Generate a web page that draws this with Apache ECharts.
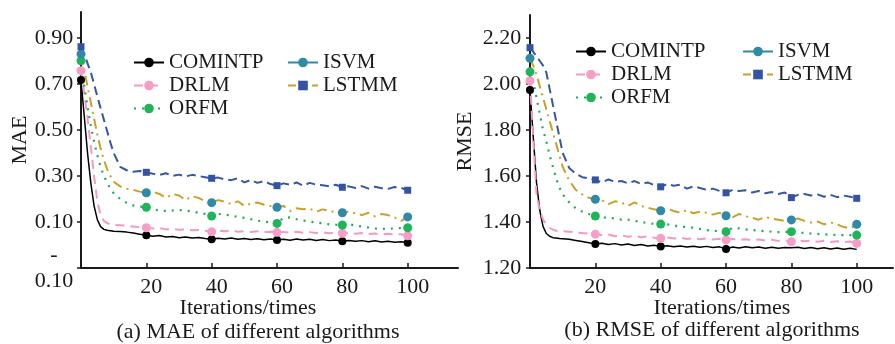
<!DOCTYPE html>
<html>
<head>
<meta charset="utf-8">
<script src="https://cdn.jsdelivr.net/npm/echarts@6/dist/echarts.min.js"></script>
<style>
  html, body { margin: 0; padding: 0; background: #fff; }
  #main { width: 895px; height: 344px; }
</style>
</head>
<body>
<div id="main"></div>
<script>
const iterations = [0, 1, 2, 3, 4, 5, 6, 7, 8, 9, 10, 12, 14, 16, 18,
  20, 22, 24, 26, 28, 30, 32, 34, 36, 38, 40, 42, 44, 46, 48, 50, 52, 54, 56, 58,
  60, 62, 64, 66, 68, 70, 72, 74, 76, 78, 80, 82, 84, 86, 88, 90, 92, 94, 96, 98, 100]

// (a) MAE
const maeCOMINTP = [0.717, 0.56, 0.40, 0.27, 0.17, 0.11, 0.08, 0.068, 0.064, 0.062, 0.060, 0.059, 0.056, 0.052, 0.047,
  0.042, 0.038, 0.041, 0.035, 0.037, 0.032, 0.035, 0.030, 0.033, 0.028, 0.025, 0.029, 0.026, 0.030, 0.025, 0.028, 0.024, 0.027, 0.023, 0.026,
  0.022, 0.025, 0.021, 0.026, 0.022, 0.025, 0.020, 0.024, 0.019, 0.022, 0.016, 0.020, 0.016, 0.019, 0.014, 0.018, 0.013, 0.016, 0.012, 0.014, 0.010]
const maeDRLM = [0.758, 0.66, 0.55, 0.43, 0.30, 0.19, 0.13, 0.105, 0.095, 0.090, 0.088, 0.086, 0.084, 0.080, 0.077,
  0.075, 0.072, 0.074, 0.068, 0.070, 0.066, 0.068, 0.064, 0.065, 0.062, 0.058, 0.062, 0.060, 0.063, 0.058, 0.060, 0.057, 0.060, 0.056, 0.058,
  0.055, 0.057, 0.054, 0.058, 0.053, 0.056, 0.052, 0.055, 0.051, 0.054, 0.051, 0.053, 0.049, 0.052, 0.048, 0.050, 0.046, 0.049, 0.045, 0.047, 0.040]
const maeORFM = [0.801, 0.69, 0.60, 0.52, 0.45, 0.39, 0.34, 0.30, 0.27, 0.245, 0.225, 0.20, 0.183, 0.172, 0.167,
  0.164, 0.155, 0.150, 0.148, 0.150, 0.152, 0.150, 0.146, 0.140, 0.135, 0.126, 0.135, 0.132, 0.128, 0.122, 0.118, 0.112, 0.106, 0.102, 0.098,
  0.094, 0.118, 0.120, 0.112, 0.106, 0.102, 0.098, 0.094, 0.090, 0.088, 0.087, 0.090, 0.085, 0.080, 0.076, 0.072, 0.070, 0.071, 0.072, 0.074, 0.075]
const maeISVM = [0.830, 0.76, 0.69, 0.62, 0.55, 0.48, 0.42, 0.37, 0.33, 0.30, 0.275, 0.255, 0.245, 0.240, 0.232,
  0.227, 0.232, 0.222, 0.205, 0.222, 0.215, 0.195, 0.212, 0.205, 0.190, 0.184, 0.195, 0.188, 0.178, 0.190, 0.170, 0.180, 0.185, 0.175, 0.170,
  0.164, 0.170, 0.148, 0.160, 0.155, 0.158, 0.145, 0.155, 0.148, 0.142, 0.140, 0.145, 0.138, 0.130, 0.140, 0.125, 0.135, 0.130, 0.120, 0.105, 0.122]
const maeLSTMM = [0.862, 0.83, 0.79, 0.75, 0.70, 0.645, 0.595, 0.545, 0.495, 0.445, 0.40, 0.34, 0.325, 0.318, 0.322,
  0.316, 0.310, 0.305, 0.312, 0.300, 0.306, 0.298, 0.305, 0.300, 0.295, 0.290, 0.293, 0.285, 0.282, 0.290, 0.272, 0.283, 0.270, 0.278, 0.265,
  0.258, 0.268, 0.262, 0.272, 0.258, 0.270, 0.262, 0.260, 0.255, 0.262, 0.251, 0.255, 0.248, 0.256, 0.245, 0.253, 0.247, 0.244, 0.252, 0.248, 0.238]

// (b) RMSE
const rmseCOMINTP = [1.974, 1.77, 1.57, 1.45, 1.38, 1.35, 1.338, 1.332, 1.330, 1.328, 1.327, 1.325, 1.320, 1.315, 1.310,
  1.304, 1.308, 1.302, 1.306, 1.300, 1.304, 1.298, 1.302, 1.296, 1.299, 1.293, 1.297, 1.292, 1.296, 1.291, 1.295, 1.290, 1.294, 1.289, 1.292,
  1.283, 1.291, 1.287, 1.292, 1.288, 1.291, 1.286, 1.290, 1.286, 1.289, 1.288, 1.290, 1.285, 1.289, 1.284, 1.288, 1.283, 1.287, 1.282, 1.286, 1.281]
const rmseDRLM = [2.014, 1.76, 1.52, 1.45, 1.41, 1.39, 1.375, 1.367, 1.362, 1.360, 1.360, 1.358, 1.355, 1.352, 1.350,
  1.347, 1.343, 1.346, 1.338, 1.342, 1.336, 1.340, 1.334, 1.337, 1.332, 1.329, 1.333, 1.328, 1.332, 1.326, 1.330, 1.325, 1.329, 1.324, 1.327,
  1.322, 1.326, 1.321, 1.325, 1.320, 1.324, 1.319, 1.323, 1.318, 1.321, 1.314, 1.320, 1.316, 1.319, 1.314, 1.318, 1.313, 1.316, 1.312, 1.315, 1.307]
const rmseORFM = [2.053, 2.01, 1.94, 1.87, 1.80, 1.75, 1.69, 1.64, 1.59, 1.55, 1.52, 1.485, 1.46, 1.445, 1.435,
  1.426, 1.420, 1.418, 1.415, 1.410, 1.410, 1.405, 1.400, 1.395, 1.392, 1.391, 1.390, 1.385, 1.380, 1.378, 1.375, 1.370, 1.365, 1.362, 1.360,
  1.358, 1.375, 1.372, 1.368, 1.365, 1.362, 1.360, 1.358, 1.356, 1.357, 1.358, 1.355, 1.352, 1.350, 1.348, 1.346, 1.345, 1.344, 1.343, 1.343, 1.343]
const rmseISVM = [2.112, 2.08, 2.04, 1.99, 1.94, 1.89, 1.84, 1.79, 1.74, 1.69, 1.64, 1.58, 1.54, 1.52, 1.505,
  1.499, 1.495, 1.478, 1.490, 1.485, 1.470, 1.485, 1.470, 1.462, 1.455, 1.449, 1.458, 1.448, 1.440, 1.452, 1.438, 1.445, 1.440, 1.432, 1.440,
  1.427, 1.420, 1.435, 1.425, 1.418, 1.410, 1.422, 1.415, 1.410, 1.405, 1.409, 1.415, 1.405, 1.398, 1.402, 1.390, 1.398, 1.390, 1.378, 1.372, 1.390]
const rmseLSTMM = [2.158, 2.14, 2.12, 2.10, 2.08, 2.05, 1.98, 1.91, 1.84, 1.77, 1.70, 1.635, 1.61, 1.595, 1.59,
  1.583, 1.572, 1.585, 1.575, 1.578, 1.568, 1.578, 1.565, 1.572, 1.560, 1.553, 1.565, 1.558, 1.562, 1.545, 1.555, 1.548, 1.540, 1.545, 1.535,
  1.527, 1.540, 1.535, 1.538, 1.528, 1.535, 1.525, 1.530, 1.522, 1.528, 1.506, 1.518, 1.522, 1.515, 1.520, 1.510, 1.518, 1.508, 1.515, 1.510, 1.503]

// ticks / markers
const xTicks = [20, 40, 60, 80, 100]
const maeTicks = [-0.1, 0.1, 0.3, 0.5, 0.7, 0.9]
const rmseTicks = [1.2, 1.4, 1.6, 1.8, 2.0, 2.2]
const markAt = [0, 20, 40, 60, 80, 100]
const markAtShort = [0, 20, 40, 60]

const font = 'Liberation Serif'
const ink = '#1a1a1a'

// line / marker looks per algorithm
const looks = {
  COMINTP: { line: '#000000', mark: '#000000', width: 1.5, type: 'solid', symbol: 'circle', size: 8 },
  DRLM: { line: '#f39ac3', mark: '#f59fc8', width: 2, type: [9, 6], symbol: 'circle', size: 9 },
  ORFM: { line: '#1faa5a', mark: '#1fb35a', width: 2.2, type: [2, 6], symbol: 'circle', size: 9 },
  ISVM: { line: '#c9a12a', mark: '#2f8aa7', width: 2, type: [10, 5, 2, 5], symbol: 'circle', size: 9 },
  LSTMM: { line: '#3757a5', mark: '#3454a3', width: 2, type: [9, 5], symbol: 'rect', size: 7 }
}

function makeSeries (name, values, idx, marks) {
  const lk = looks[name]
  return {
    name: name,
    type: 'line',
    xAxisIndex: idx,
    yAxisIndex: idx,
    symbol: lk.symbol,
    symbolSize: lk.size,
    showSymbol: true,
    lineStyle: { color: lk.line, width: lk.width, type: lk.type },
    itemStyle: { color: lk.mark },
    data: iterations.map(function (x, i) {
      return marks.indexOf(x) >= 0 ? [x, values[i]] : { value: [x, values[i]], symbol: 'none' }
    })
  }
}

function xAxisFor (idx, max, pad) {
  return {
    type: 'value', gridIndex: idx, min: 0, max: max,
    axisLine: { show: true, onZero: false, lineStyle: { color: ink, width: 2 } },
    axisTick: { show: true, inside: true, length: 5, customValues: xTicks, lineStyle: { color: ink, width: 1.5 } },
    axisLabel: { customValues: xTicks, margin: 8, color: ink, fontFamily: font, fontSize: 22, padding: pad },
    splitLine: { show: false }
  }
}

function yAxisFor (idx, name, min, max, ticks, gap, margin) {
  return {
    type: 'value', gridIndex: idx, min: min, max: max,
    name: name, nameLocation: 'middle', nameGap: gap,
    nameTextStyle: { color: ink, fontFamily: font, fontSize: 22 },
    axisLine: { show: true, onZero: false, lineStyle: { color: ink, width: 2 } },
    axisTick: { show: true, inside: false, length: 4, customValues: ticks, lineStyle: { color: ink, width: 1.5 } },
    axisLabel: {
      customValues: ticks, margin: margin, align: 'center', lineHeight: 26,
      color: ink, fontFamily: font, fontSize: 22,
      formatter: function (v) { return v < 0 ? '-\n' + Math.abs(v).toFixed(2) : v.toFixed(2) }
    },
    splitLine: { show: false }
  }
}

function legendFor (left, top, items) {
  return {
    orient: 'vertical', left: left, top: top, padding: 0, itemGap: 2,
    itemWidth: 30, itemHeight: 12, selectedMode: false,
    textStyle: { color: ink, fontFamily: font, fontSize: 21 },
    data: items
  }
}

const isvmLegend = { name: 'ISVM', lineStyle: { color: looks.ISVM.mark, type: 'solid' }, itemStyle: { color: looks.ISVM.mark } }
const lstmmLegend = { name: 'LSTMM', lineStyle: { color: looks.ISVM.line, type: [8, 4] }, itemStyle: { color: looks.LSTMM.mark } }

function caption (x, y, text) {
  return {
    type: 'text', x: x, y: y,
    style: { text: text, fill: ink, fontFamily: font, fontSize: 22, align: 'center', verticalAlign: 'middle' }
  }
}

const myChart = echarts.init(document.getElementById('main'))
const option = {
  backgroundColor: '#ffffff',
  animation: false,
  grid: [
    { left: 81, top: 12, width: 377, height: 256 },
    { left: 530, top: 15, width: 363, height: 253 }
  ],
  xAxis: [xAxisFor(0, 115.4, [0, 0, 0, 10]), xAxisFor(1, 111.1, 0)],
  yAxis: [
    yAxisFor(0, 'MAE', -0.1, 1.013, maeTicks, 47, 27),
    yAxisFor(1, 'RMSE', 1.2, 2.3, rmseTicks, 54, 28)
  ],
  legend: [
    legendFor(133, 52, ['COMINTP', 'DRLM', 'ORFM']),
    legendFor(287, 52, [isvmLegend, lstmmLegend]),
    legendFor(575, 41, ['COMINTP', 'DRLM', 'ORFM']),
    legendFor(742, 41, [isvmLegend, lstmmLegend])
  ],
  graphic: [
    caption(248, 308, 'Iterations/times'),
    caption(258, 332, '(a) MAE of different algorithms'),
    caption(722, 308, 'Iterations/times'),
    caption(712, 330, '(b) RMSE of different algorithms')
  ],
  series: [
    makeSeries('COMINTP', maeCOMINTP, 0, markAt),
    makeSeries('DRLM', maeDRLM, 0, markAt),
    makeSeries('ORFM', maeORFM, 0, markAt),
    makeSeries('ISVM', maeISVM, 0, markAt),
    makeSeries('LSTMM', maeLSTMM, 0, markAt),
    makeSeries('COMINTP', rmseCOMINTP, 1, markAtShort),
    makeSeries('DRLM', rmseDRLM, 1, markAt),
    makeSeries('ORFM', rmseORFM, 1, markAt),
    makeSeries('ISVM', rmseISVM, 1, markAt),
    makeSeries('LSTMM', rmseLSTMM, 1, markAt)
  ]
}
myChart.setOption(option)
window.addEventListener('resize', function () {
  myChart.resize()
})
</script>
</body>
</html>
